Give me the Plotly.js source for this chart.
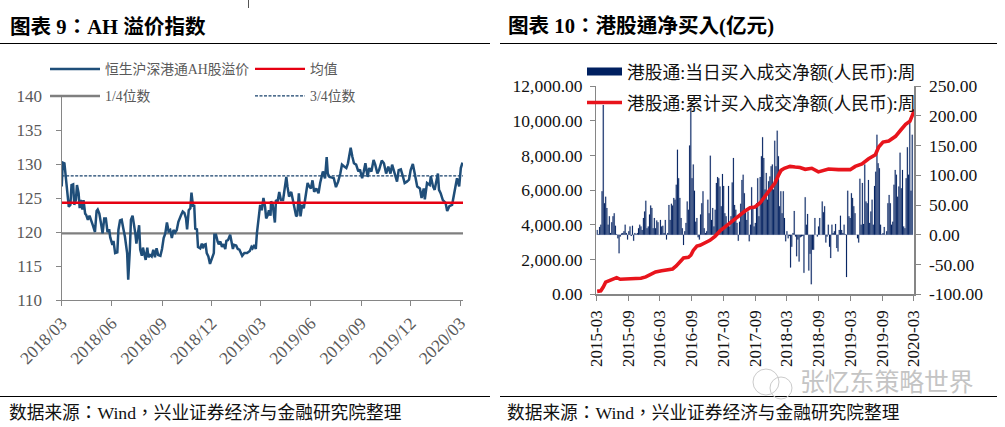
<!DOCTYPE html>
<html><head><meta charset="utf-8">
<script src="https://cdn.plot.ly/plotly-3.0.1.min.js"></script>
<style>html,body{margin:0;padding:0;background:#fff}</style></head>
<body><div id="chart" style="width:1005px;height:427px"></div>
<script>
// ---- 图表 9 data ----
const ahStart = '2018-03-01';
const ahDayOffsets = [0,2,5,7,11,13,16,18,21,23,26,28,31,33,35,38,40,43,45,48,51,54,57,61,64,66,69,72,75,78,81,84,87,89,93,95,98,102,104,107,110,113,116,120,122,125,127,130,132,135,137,140,142,144,147,149,152,154,157,159,162,165,168,171,174,177,181,184,187,190,193,196,199,202,205,208,211,214,219,222,225,228,230,233,236,238,241,243,245,248,250,254,257,259,261,264,266,269,272,276,279,280,283,286,288,291,294,297,300,302,305,309,312,314,316,320,323,326,331,335,340,345,348,350,353,356,358,361,364,367,370,373,375,378,380,383,384,387,389,391,393,396,399,402,406,409,412,414,417,421,424,427,430,432,435,438,441,444,447,451,454,457,460,463,467,471,474,479,483,486,488,491,496,499,503,507,511,514,517,522,525,530,533,536,540,544,547,551,554,557,561,564,568,572,575,579,582,587,591,595,599,603,606,611,615,618,622,626,629,633,637,640,644,648,652,657,660,664,666,670,675,677,681,684,688,690,692,695,699,704,707,711,716,719,722,725,729,732,735];
const ahPremium = [126.7,130.2,130.1,128.4,125.7,123.7,124.0,126.9,127.0,124.0,124.7,126.9,125.7,123.5,124.7,123.3,124.7,122.7,122.5,121.8,122.4,121.5,121.0,120.0,123.1,123.3,122.7,121.3,119.8,122.0,122.0,120.0,120.4,119.2,118.1,118.7,116.9,117.0,120.3,121.7,121.8,120.5,119.3,116.9,113.0,117.4,121.8,122.4,121.5,119.8,118.3,120.3,121.0,117.4,116.5,117.7,116.4,115.9,117.7,116.3,116.6,116.4,117.4,116.3,117.6,116.6,116.5,117.5,119.1,119.8,121.4,120.1,120.3,119.1,120.3,119.9,120.3,121.5,122.5,123.0,122.8,122.0,120.4,123.2,123.5,125.8,123.7,124.0,120.5,120.4,117.8,117.6,118.3,117.6,118.1,118.2,116.9,116.4,115.3,116.1,116.9,119.6,119.6,118.6,118.2,118.6,117.8,118.2,117.5,118.7,118.8,119.6,118.6,117.5,118.1,118.0,117.5,117.4,116.5,116.9,116.9,117.2,117.8,117.6,118.1,117.5,119.8,122.5,124.0,123.2,125.0,123.7,122.0,122.5,123.2,122.4,124.5,124.0,122.7,121.4,124.7,124.5,125.9,124.7,124.7,126.2,128.1,126.7,125.2,125.9,124.7,124.0,122.3,122.5,125.7,122.3,124.0,123.5,125.0,127.2,126.7,126.4,127.6,125.9,126.4,125.7,127.2,128.9,127.9,131.0,128.6,128.1,128.0,127.9,126.6,127.4,128.6,129.9,129.7,129.4,130.1,132.4,131.1,130.1,129.9,128.9,129.2,127.9,128.9,130.1,128.1,129.4,128.9,130.6,129.9,128.6,129.1,130.5,130.1,128.6,129.6,128.6,129.9,128.6,127.4,129.1,129.2,128.1,127.2,127.4,127.7,129.1,130.0,128.4,126.7,126.4,125.0,126.4,124.8,127.2,126.9,128.2,126.7,126.2,127.9,128.6,126.2,125.7,124.7,124.3,123.1,123.8,124.0,125.2,126.7,127.9,126.7,129.4,130.2];
const ahRefDates = ['2018-03-01','2020-03-06'];
const ahMean = [124.3,124.3];
const ahQ1 = [119.8,119.8];
const ahQ3 = [128.25,128.25];
const ahTickDates = ['2018-03-01','2018-06-01','2018-09-01','2018-12-01','2019-03-01','2019-06-01','2019-09-01','2019-12-01','2020-03-01'];
const ahTickText = ['2018/03','2018/06','2018/09','2018/12','2019/03','2019/06','2019/09','2019/12','2020/03'];
const ahYTicks = [110,115,120,125,130,135,140];

// ---- 图表 10 data ----
const flowStart = '2015-03-06';
const weeklyNet = [8,1,13,17,73,218,53,64,45,17,31,3,21,31,36,15,1,-6,-31,-3,2,3,6,17,3,-8,6,14,-2,15,-10,3,1,3,11,17,14,8,28,39,57,11,14,34,49,45,11,28,11,24,21,0,25,14,15,3,25,-8,3,50,25,52,49,62,59,84,143,95,62,28,11,-17,6,20,56,42,150,213,95,118,
74,22,28,-4,-8,34,53,73,11,3,6,59,36,133,25,45,14,42,87,97,95,81,48,102,82,36,31,17,82,14,31,88,129,50,42,20,-10,22,52,92,101,70,42,25,39,-11,17,80,45,14,20,53,95,31,97,132,164,129,76,104,59,90,98,115,118,76,158,115,175,132,48,73,36,73,28,-11,6,-6,-2,-55,-20,3,40,-3,-36,-8,-45,
-4,-3,-2,-64,63,17,35,-60,-32,-83,-25,-25,28,0,-3,14,28,0,56,38,48,-13,-3,17,-20,-39,17,3,6,18,-22,-28,8,32,8,3,17,1,-71,74,31,28,70,62,48,36,0,-6,-13,94,17,87,18,118,56,53,92,20,39,59,17,82,106,168,120,112,17,1,3,13,0,6,53,67,53,17,22,84,109,101,64,81,138,78,109,14,11,95,147,101,193,74,168];
const cumDates = ['2015-03-06','2015-03-27','2015-04-10','2015-04-24','2015-05-15','2015-06-12','2015-06-26','2015-07-17','2015-08-21','2015-10-02','2015-11-13','2015-12-11','2016-01-08','2016-02-05','2016-03-11','2016-04-15','2016-05-13','2016-06-03','2016-07-01','2016-07-15','2016-08-12','2016-08-26','2016-09-09','2016-09-30','2016-10-18','2016-11-16','2016-12-14','2017-01-12','2017-02-10','2017-03-11','2017-04-08','2017-05-07','2017-06-05','2017-07-04','2017-08-02','2017-08-30','2017-09-28','2017-10-27','2017-11-25','2017-12-23','2018-01-12','2018-01-27','2018-02-15','2018-03-20','2018-04-18','2018-05-16','2018-06-15','2018-07-23','2018-08-30','2018-10-27','2018-12-24','2019-03-01','2019-03-30','2019-05-08','2019-06-15','2019-07-24','2019-08-12','2019-09-06','2019-10-09','2019-11-17','2019-12-16','2020-01-14','2020-02-08','2020-02-22','2020-03-06'];
const cumNet = [170,200,420,700,790,920,960,865,880,900,920,1000,1130,1290,1360,1400,1460,1630,1900,2090,2130,2250,2530,2780,2820,2960,3110,3340,3650,3880,4110,4360,4610,4800,4990,5030,5260,5640,6090,6410,6850,7140,7260,7370,7330,7300,7200,7260,7050,7220,7180,7180,7370,7510,7810,8040,8490,8770,8830,9100,9450,9790,9980,10310,10640];
const flowTickDates = ['2015-03-01','2015-09-01','2016-03-01','2016-09-01','2017-03-01','2017-09-01','2018-03-01','2018-09-01','2019-03-01','2019-09-01','2020-03-01'];
const flowTickText = ['2015-03','2015-09','2016-03','2016-09','2017-03','2017-09','2018-03','2018-09','2019-03','2019-09','2020-03'];
const leftTickVals = [0,2000,4000,6000,8000,10000,12000];
const leftTickText = ['0.00','2,000.00','4,000.00','6,000.00','8,000.00','10,000.00','12,000.00'];
const rightTickVals = [-100,-50,0,50,100,150,200,250];
const rightTickText = ['-100.00','-50.00','0.00','50.00','100.00','150.00','200.00','250.00'];

// ---- texts ----
const title9 = '图表 9：AH 溢价指数';
const title10 = '图表 10：港股通净买入(亿元)';
const sourceText = '数据来源：Wind，兴业证券经济与金融研究院整理';
const watermark = '张忆东策略世界';
const nameAH = '恒生沪深港通AH股溢价', nameMean = '均值', nameQ1 = '1/4位数', nameQ3 = '3/4位数';
const nameWeekly = '港股通:当日买入成交净额(人民币):周', nameCum = '港股通:累计买入成交净额(人民币):周';

// ---- helpers ----
const W = 1005, H = 427;
const px = v => v / W, py = v => 1 - v / H;
const DAY = 86400000;
const addDays = (s, n) => new Date(Date.parse(s + 'T00:00:00Z') + n * DAY).toISOString().slice(0, 10);
const ahDates = ahDayOffsets.map(d => addDays(ahStart, d));
const weekDates = weeklyNet.map((_, i) => addDays(flowStart, i * 7));
const FONT = '"Liberation Serif","Noto Sans CJK SC",serif';
const NOTEFONT = '"Liberation Serif","Noto Sans CJK TC",serif';
const GREY = '#595959', AXIS = '#868686', BLUE = '#1f4e79', RED = '#e60012', RED2 = '#e8141c', NAVY = '#002060';

const traces = [
  {x: ahRefDates, y: ahQ1, name: nameQ1, mode: 'lines', line: {color: '#7f7f7f', width: 2.4}, xaxis: 'x', yaxis: 'y', legend: 'legend3'},
  {x: ahRefDates, y: ahQ3, name: nameQ3, mode: 'lines', line: {color: '#17406b', width: 1.2, dash: '3px,1.5px'}, xaxis: 'x', yaxis: 'y', legend: 'legend4'},
  {x: ahDates, y: ahPremium, name: nameAH, mode: 'lines', line: {color: BLUE, width: 2.5}, xaxis: 'x', yaxis: 'y', legend: 'legend'},
  {x: ahRefDates, y: ahMean, name: nameMean, mode: 'lines', line: {color: RED, width: 2.3}, xaxis: 'x', yaxis: 'y', legend: 'legend2'},
  {type: 'bar', x: weekDates, y: weeklyNet, name: nameWeekly, marker: {color: NAVY, line: {width: 0.15, color: NAVY}}, xaxis: 'x2', yaxis: 'y2', showlegend: false},
  {x: [weekDates[0]], y: [weeklyNet[0]], name: nameWeekly, mode: 'lines', line: {color: NAVY, width: 8}, xaxis: 'x2', yaxis: 'y2', legend: 'legend5'},
  {x: cumDates, y: cumNet, name: nameCum, mode: 'lines', line: {color: RED2, width: 3.6, shape: 'linear'}, xaxis: 'x2', yaxis: 'y3', legend: 'legend6'}
];

const mkLegend = (x, y, size, width, color) => ({
  x: px(x), y: py(y), xanchor: 'left', yanchor: 'middle', bgcolor: 'rgba(0,0,0,0)', borderwidth: 0,
  itemwidth: width, itemclick: false, itemdoubleclick: false,
  font: {family: FONT, size: size, color: color}
});

const axisBase = {showgrid: false, zeroline: false, showline: true, linecolor: AXIS, linewidth: 1.2, ticks: 'outside', ticklen: 5, tickcolor: AXIS, tickwidth: 1};
const line = (x0, y0, x1, y1, color, w) => ({type: 'line', xref: 'paper', yref: 'paper', x0: px(x0), x1: px(x1), y0: py(y0), y1: py(y1), line: {color: color, width: w}});
const circle = (cx, cy, r) => ({type: 'circle', xref: 'paper', yref: 'paper', x0: px(cx - r), x1: px(cx + r), y0: py(cy - r), y1: py(cy + r), line: {color: '#cbcbcb', width: 1}});
const note = (text, x, y, size, color, bold) => ({text: bold ? '<b>' + text + '</b>' : text, x: px(x), y: py(y), xref: 'paper', yref: 'paper', xanchor: 'left', yanchor: 'middle', showarrow: false, font: {family: NOTEFONT, size: size, color: color}});

const layout = {
  width: W, height: H, autosize: false, margin: {l: 0, r: 0, t: 0, b: 0}, paper_bgcolor: '#fff', plot_bgcolor: 'rgba(0,0,0,0)',
  bargap: 0.2, showlegend: true, hovermode: false,
  xaxis: Object.assign({}, axisBase, {domain: [px(61.7), px(463)], type: 'date', range: ['2018-03-01', '2020-03-06'], anchor: 'y', tickmode: 'array', tickvals: ahTickDates, ticktext: ahTickText, tickangle: -45, tickfont: {family: FONT, size: 17.5, color: GREY}}),
  yaxis: Object.assign({}, axisBase, {domain: [py(300), py(96)], range: [110, 140], anchor: 'x', ticklabelstandoff: 10, tickmode: 'array', tickvals: ahYTicks, ticktext: ahYTicks.map(String), tickfont: {family: FONT, size: 17, color: GREY}}),
  xaxis2: Object.assign({}, axisBase, {domain: [px(596.3), px(914.3)], type: 'date', range: ['2015-03-01', '2020-03-04'], anchor: 'y3', ticklabelstandoff: 3, tickmode: 'array', tickvals: flowTickDates, ticktext: flowTickText, tickangle: -90, tickfont: {family: FONT, size: 17, color: '#111'}}),
  yaxis2: Object.assign({}, axisBase, {domain: [py(294.3), py(86)], range: [-100, 250], side: 'right', anchor: 'x2', ticklabelstandoff: 5, tickmode: 'array', tickvals: rightTickVals, ticktext: rightTickText, tickfont: {family: FONT, size: 17.5, color: '#111'}}),
  yaxis3: Object.assign({}, axisBase, {domain: [py(294.3), py(86)], range: [0, 12000], side: 'left', overlaying: 'y2', anchor: 'x2', ticklabelstandoff: 4, tickmode: 'array', tickvals: leftTickVals, ticktext: leftTickText, tickfont: {family: FONT, size: 17.5, color: '#111'}}),
  legend: mkLegend(45, 69, 13.8, 50, GREY),
  legend2: mkLegend(250, 69, 13.8, 50, GREY),
  legend3: mkLegend(45, 96, 13.8, 50, GREY),
  legend4: mkLegend(250, 96, 13.8, 50, GREY),
  legend5: mkLegend(582, 72, 17.8, 35, '#111'),
  legend6: mkLegend(582, 103, 17.8, 35, '#111'),
  shapes: [
    line(0, 43.5, 490, 43.5, '#000', 1), line(500, 43.5, 997, 43.5, '#000', 1),
    line(0, 396.5, 490, 396.5, '#000', 1), line(500, 396.5, 997, 396.5, '#000', 1),
    line(248.5, 0, 248.5, 8, '#555', 1),
    circle(766, 382, 13), circle(781, 388, 11)
  ],
  annotations: [
    note(title9, 8, 27, 20.6, '#000', true),
    note(title10, 506, 27, 20.6, '#000', true),
    note(sourceText, 6.5, 413, 17.7, '#111', false),
    note(sourceText, 505, 413, 17.7, '#111', false),
    note(watermark, 798, 382, 24.8, '#c4c4c4', false)
  ]
};
Plotly.newPlot('chart', traces, layout, {displayModeBar: false, staticPlot: true});
</script></body></html>
